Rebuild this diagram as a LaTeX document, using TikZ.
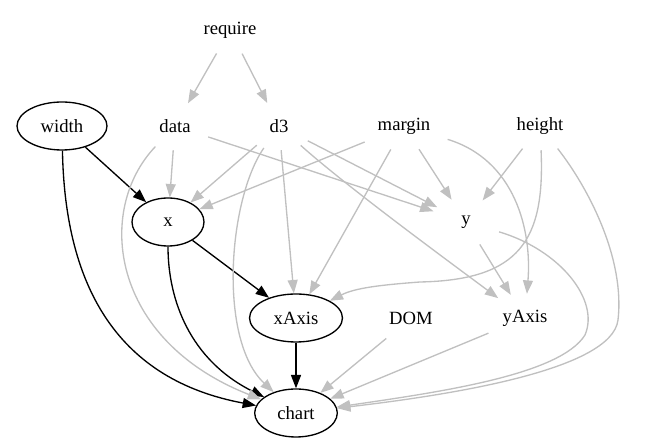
\documentclass[tikz,border=0pt]{standalone}
\usepackage{fontspec}
\IfFontExistsTF{LiberationSerif-Regular.ttf}{\newfontfamily\gvfont{LiberationSerif-Regular.ttf}}{\newfontfamily\gvfont{Liberation Serif}}
\usetikzlibrary{arrows.meta,shapes.geometric}
\definecolor{edgegray}{RGB}{192,192,192}
\begin{document}
\begin{tikzpicture}[x=0.75pt,y=-0.75pt,
  every node/.style={ellipse, inner xsep=7.92pt, inner ysep=2pt, minimum width=54pt, minimum height=36pt, font=\gvfont\fontsize{14}{16}\selectfont},
  gnode/.style={draw=black, line width=1pt},
  pnode/.style={draw=none},
  gedge/.style={draw=edgegray, line width=1pt, -{Triangle[length=10pt,width=7.5pt,fill=edgegray]}},
  bedge/.style={draw=black, line width=1pt, -{Triangle[length=10pt,width=7.5pt]}}]
\useasboundingbox (0,0) rectangle (662,448);
% nodes
\node[pnode] (require) at (230,30) {require};
\node[gnode] (width) at (62,126) {width};
\node[pnode] (data) at (175,126) {data};
\node[pnode] (d3) at (279,126) {d3};
\node[pnode] (margin) at (404,126) {margin};
\node[pnode] (height) at (540,126) {height};
\node[gnode] (nx) at (168,222) {x};
\node[pnode] (ny) at (466,222) {y};
\node[gnode] (xAxis) at (296,318) {xAxis};
\node[pnode] (DOM) at (411,318) {DOM};
\node[pnode] (yAxis) at (525,318) {yAxis};
\node[gnode] (chart) at (296,413) {chart};
% black edges
\draw[bedge] (width) -- (nx);
\draw[bedge] (width) .. controls (65,290) and (120,380) .. (chart);
\draw[bedge] (nx) -- (xAxis);
\draw[bedge] (nx) .. controls (168,300) and (190,360) .. (chart);
\draw[bedge] (xAxis) -- (chart);
% gray edges
\draw[gedge] (require) -- (data);
\draw[gedge] (require) -- (d3);
\draw[gedge] (data) -- (nx);
\draw[gedge] (data) -- (ny);
\draw[gedge] (data) .. controls (95,210) and (110,340) .. (chart);
\draw[gedge] (d3) -- (nx);
\draw[gedge] (d3) -- (xAxis);
\draw[gedge] (d3) .. controls (228,200) and (218,340) .. (chart);
\draw[gedge] (d3) -- (ny);
\draw[gedge] (d3) .. controls (345,185) and (440,255) .. (yAxis);
\draw[gedge] (margin) -- (nx);
\draw[gedge] (margin) -- (ny);
\draw[gedge] (margin) -- (xAxis);
\draw[gedge] (margin) .. controls (515,160) and (532,230) .. (yAxis);
\draw[gedge] (height) -- (ny);
\draw[gedge] (height) .. controls (545,240) and (520,280) .. (420,282) .. controls (380,285) and (355,288) .. (xAxis);
\draw[gedge] (height) .. controls (590,190) and (625,260) .. (618,320) .. controls (612,370) and (450,395) .. (chart);
\draw[gedge] (ny) -- (yAxis);
\draw[gedge] (ny) .. controls (560,250) and (600,300) .. (585,335) .. controls (560,375) and (440,392) .. (chart);
\draw[gedge] (DOM) -- (chart);
\draw[gedge] (yAxis) -- (chart);
\end{tikzpicture}
\end{document}
